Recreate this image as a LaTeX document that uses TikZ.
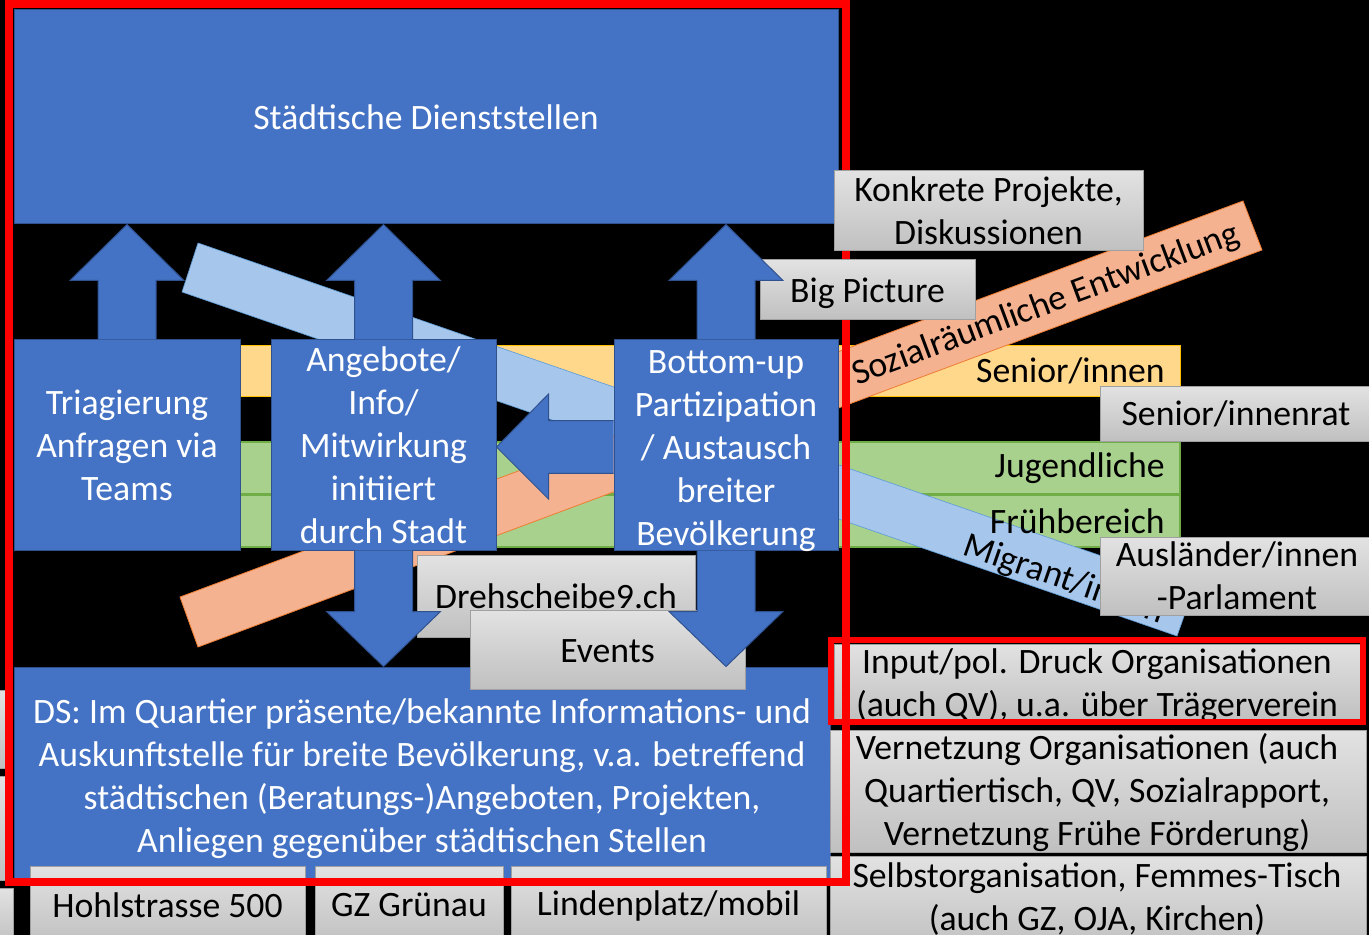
\documentclass[tikz,border=0pt]{standalone}
\usepackage{fontspec}
\setmainfont{Carlito}
\usetikzlibrary{calc,fit}
\definecolor{bblue}{HTML}{4472C4}
\definecolor{bbord}{HTML}{2F528F}
\definecolor{lblue}{RGB}{166,198,236}
\definecolor{lbord}{RGB}{91,155,213}
\definecolor{orng}{RGB}{245,178,145}
\definecolor{obord}{HTML}{ED7D31}
\definecolor{ylw}{RGB}{255,216,140}
\definecolor{ybord}{HTML}{FFC000}
\definecolor{grn}{HTML}{A9D18E}
\definecolor{gbord}{HTML}{70AD47}
\definecolor{gtop}{RGB}{226,226,226}
\definecolor{gbot}{RGB}{192,192,192}
\definecolor{gline}{RGB}{160,160,160}
\tikzset{
 txt/.style={font=\fontsize{17.85}{21.5}\selectfont, align=center, inner sep=0pt},
 wtxt/.style={txt, text=white},
 bluebox/.style={fill=bblue, draw=bbord, line width=0.5pt, inner sep=0pt},
 graybox/.style={top color=gtop, bottom color=gbot, draw=gline, line width=0.5pt, inner sep=0pt},
 greenband/.style={fill=grn, draw=gbord, line width=0.6pt, inner sep=0pt},
 yellowband/.style={fill=ylw, draw=ybord, line width=0.4pt, inner sep=0pt},
 barrow/.style={fill=bblue, draw=bbord, line width=0.5pt},
 redframe/.style={draw=red, inner sep=0pt},
}
\newcommand\UpArr[2]{\filldraw[barrow] let \p1=(#1), \p2=(#2) in
 (\x1-14.5pt,\y1) -- (\x1-14.5pt,\y2-28pt) -- (\x1-28.5pt,\y2-28pt) -- (\x1,\y2)
 -- (\x1+28.5pt,\y2-28pt) -- (\x1+14.5pt,\y2-28pt) -- (\x1+14.5pt,\y1);}
\newcommand\DownArr[2]{\filldraw[barrow] let \p1=(#1), \p2=(#2) in
 (\x1-14.5pt,\y1) -- (\x1-14.5pt,\y2+27.5pt) -- (\x1-28.5pt,\y2+27.5pt) -- (\x1,\y2)
 -- (\x1+28.5pt,\y2+27.5pt) -- (\x1+14.5pt,\y2+27.5pt) -- (\x1+14.5pt,\y1);}
\begin{document}
\begin{tikzpicture}[x=0.5pt,y=-0.5pt]
\useasboundingbox (0,0) rectangle (1369,935);
\clip (0,0) rectangle (1369,935);
\fill[black] (0,0) rectangle (1369,935);
% horizontal bands
\node[yellowband, fit={(240,345)(1180,396)}] (bsen) {};
\node[greenband, fit={(240,442)(1180,494)}] (bjug) {};
\node[greenband, fit={(240,495)(1180,547)}] (bfru) {};
% diagonal bands
\filldraw[fill=lblue, draw=lbord, line width=0.3pt] (198,243) -- (1194,588) -- (1177,636) -- (182,292) -- cycle;
\node[txt, rotate=-19.1] (tmig) at (1064,580) {Migrant/innen};
\filldraw[fill=orng, draw=obord, line width=0.4pt] (180,597) -- (1243,201) -- (1262,250) -- (198,647) -- cycle;
\node[txt, rotate=20.45] (tsoz) at (1046,305) {Sozialräumliche Entwicklung};
\node[txt, anchor=east] (tsen) at (1165,371) {Senior/innen};
\node[txt, anchor=east] (tjug) at (1165,468) {Jugendliche};
\node[txt, anchor=east] (tfru) at (1165,521) {Frühbereich};
% top box
\node[bluebox, fit={(14,10)(838,224)}] (top) {};
\node[wtxt] (ttop) at (top) {Städtische Dienststellen};
% middle boxes
\node[bluebox, fit={(14,340)(240,550)}] (trig) {};
\node[wtxt] (ttrig) at (trig) {Triagierung\\Anfragen via\\Teams};
\node[bluebox, fit={(271,340)(496,550)}] (ang) {};
\node[wtxt] (tang) at (ang) {Angebote/\\Info/\\Mitwirkung\\initiiert\\durch Stadt};
\node[bluebox, fit={(614,340)(838,550)}] (bu) {};
\node[wtxt] (tbu) at ([yshift=-3pt]bu.center) {Bottom-up\\Partizipation\\/ Austausch\\breiter\\Bevölkerung};
% arrows up
\UpArr{trig.north}{top.south}
\UpArr{ang.north}{top.south}
% arrow left
\filldraw[barrow] let \p1=(bu.west), \p2=(ang.east) in
 (\x1,\y1+12.2pt) -- (\x2+26pt,\y1+12.2pt) -- (\x2+26pt,\y1+25.5pt) -- (\x2,\y1-1pt)
 -- (\x2+26pt,\y1-27pt) -- (\x2+26pt,\y1-14.2pt) -- (\x1,\y1-14.2pt);
% right side labels
\node[graybox, fit={(1100,386)(1372,441)}] (srat) {};
\node[txt] (tsrat) at (srat) {Senior/innenrat};
\node[graybox, fit={(1100,537)(1374,615)}] (ausl) {};
\node[txt] (tausl) at (ausl) {Ausländer/innen\\-Parlament};
% lower part
\node[graybox, fit={(417,555)(695,637)}] (dreh) {};
\node[txt] (tdreh) at (556,596) {Drehscheibe9.ch};
\node[bluebox, fit={(14,667)(830,880)}] (ds) {};
\node[wtxt] (tds) at ([yshift=-2.5pt]ds.center) {DS: Im Quartier präsente/bekannte Informations- und\\Auskunftstelle für breite Bevölkerung, v.a. betreffend\\städtischen (Beratungs-)Angeboten, Projekten,\\Anliegen gegenüber städtischen Stellen};
\DownArr{ang.south}{ds.north}
\node[graybox, fit={(470,610)(745,689)}] (ev) {};
\node[txt] (tev) at ([yshift=-1pt]ev.center) {Events};
\DownArr{bu.south}{ds.north}
% bottom row
\node[graybox, fit={(30,866)(305,945)}] (hohl) {};
\node[txt] (thohl) at (167.5,905) {Hohlstrasse 500};
\node[graybox, fit={(315,866)(503,945)}] (gz) {};
\node[txt] (tgz) at (409,905) {GZ Grünau};
\node[graybox, fit={(511,866)(826,945)}] (lind) {};
\node[txt] (tlind) at (668.5,906) {Lindenplatz/mobil};
\node[graybox, fit={(-20,690)(9,768)}] (lp1) {};
\node[graybox, fit={(-20,776)(9,880)}] (lp2) {};
\node[graybox, fit={(-20,888)(13,945)}] (lp3) {};
% right column
\node[graybox, fit={(834,644)(1360,720)}] (inp) {};
\node[txt] (tinp) at ([yshift=-2pt]inp.center) {Input/pol. Druck Organisationen\\(auch QV), u.a. über Trägerverein};
\node[graybox, fit={(830,730)(1366,852)}] (vern) {};
\node[txt] (tvern) at (1097,793) {Vernetzung Organisationen (auch\\Quartiertisch, QV, Sozialrapport,\\Vernetzung Frühe Förderung)};
\node[graybox, fit={(830,856)(1366,950)}] (selb) {};
\node[txt] (tselb) at (1097,899.5) {Selbstorganisation, Femmes-Tisch\\(auch GZ, OJA, Kirchen)};
% red frames
\node[redframe, line width=4pt, fit={(9,4)(846,882)}] (frame) {};
\node[redframe, line width=3pt, fit={(831,640)(1363,722)}] (frame2) {};
% labels lying over the frame
\node[graybox, fit={(834,171)(1143,251)}] (konk) {};
\node[txt] (tkonk) at (konk) {Konkrete Projekte,\\Diskussionen};
\node[graybox, fit={(760,260)(975,320)}] (big) {};
\node[txt] (tbig) at ([yshift=-1.5pt]big.center) {Big Picture};
\UpArr{bu.north}{top.south}
\end{tikzpicture}
\end{document}
